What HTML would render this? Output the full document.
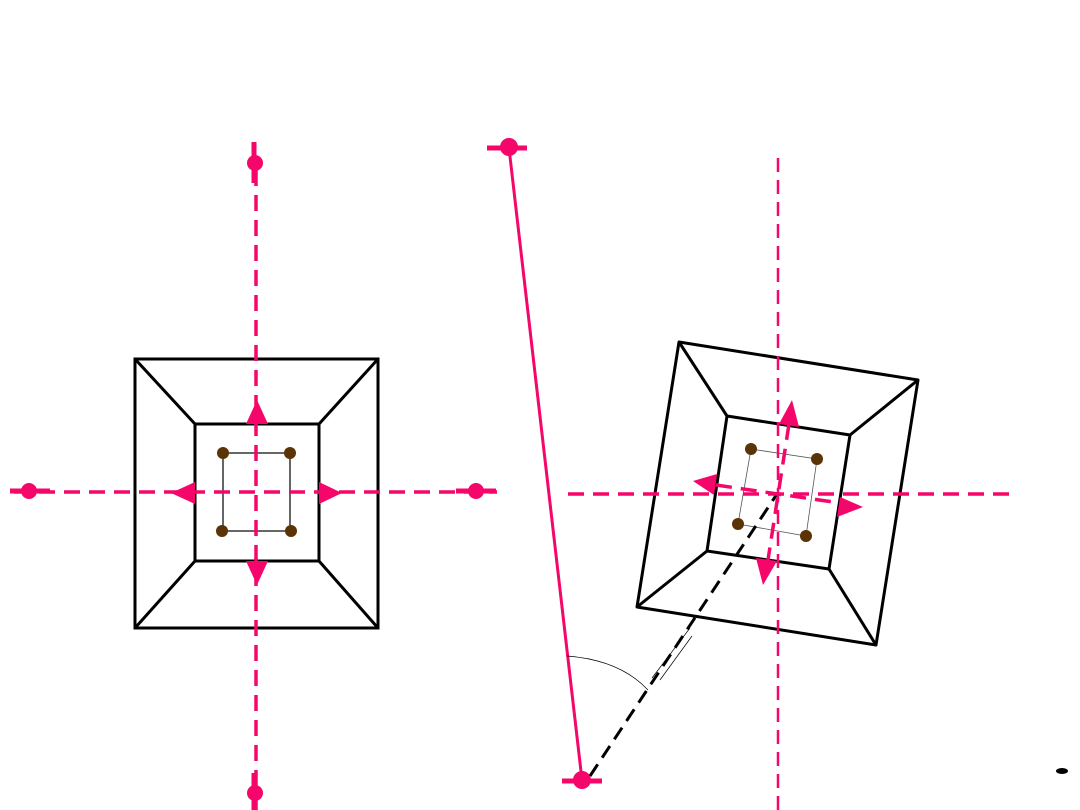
<!DOCTYPE html>
<html><head><meta charset="utf-8"><style>html,body{margin:0;padding:0;background:#fff}svg{display:block}</style></head>
<body>
<svg width="1080" height="810" viewBox="0 0 1080 810" xmlns="http://www.w3.org/2000/svg">
<rect width="1080" height="810" fill="#fff"/>
<!-- LEFT FIGURE -->
<g stroke="#000" stroke-width="3" fill="none">
<rect x="135" y="359" width="243" height="269"/>
<rect x="195" y="424" width="124" height="137"/>
<line x1="135" y1="359" x2="195" y2="424"/><line x1="378" y1="359" x2="319" y2="424"/>
<line x1="135" y1="628" x2="195" y2="561"/><line x1="378" y1="628" x2="319" y2="561"/>
</g>
<rect x="223" y="453" width="67" height="78" fill="none" stroke="#000" stroke-width="1.2"/>
<g fill="#5a3306"><circle cx="223" cy="453" r="6"/><circle cx="290" cy="453" r="6"/><circle cx="222" cy="531" r="6"/><circle cx="291" cy="531" r="6"/></g>
<g fill="#f5066a">
<polygon points="257,400 246,424 268,424"/><polygon points="257,585 246,561 268,561"/>
<polygon points="171,493 195,482 195,504"/><polygon points="342,493 319,482 319,504"/>
</g>
<g stroke="#f5066a" stroke-width="3.5" stroke-dasharray="16,9" fill="none">
<line x1="256" y1="170" x2="256" y2="810"/>
<line x1="14" y1="492" x2="497" y2="492"/>
</g>
<g stroke="#f5066a" stroke-width="5" fill="#f5066a">
<line x1="254" y1="142" x2="254" y2="183"/><circle cx="255" cy="163" r="8" stroke="none"/>
<line x1="254" y1="773" x2="254" y2="810"/><circle cx="255" cy="793" r="8" stroke="none"/>
<line x1="10" y1="491" x2="50" y2="491"/><circle cx="29" cy="491" r="8" stroke="none"/>
<line x1="456" y1="491" x2="496" y2="491"/><circle cx="476" cy="491" r="8" stroke="none"/>
</g>
<!-- RIGHT FIGURE -->
<line x1="509" y1="148" x2="582" y2="780" stroke="#f5066a" stroke-width="3"/>
<g stroke="#f5066a" stroke-width="5" fill="#f5066a">
<line x1="487" y1="148" x2="527" y2="148"/><circle cx="509" cy="147" r="9" stroke="none"/>
<line x1="562" y1="781" x2="602" y2="781"/><circle cx="582" cy="780" r="9" stroke="none"/>
</g>
<g stroke="#000" stroke-width="3" fill="none" stroke-linejoin="round">
<polygon points="679,342 918,380 876,645 637,607"/>
<polygon points="727,416 850,435 829,569 707,551"/>
<line x1="679" y1="342" x2="727" y2="416"/><line x1="918" y1="380" x2="850" y2="435"/>
<line x1="876" y1="645" x2="829" y2="569"/><line x1="637" y1="607" x2="707" y2="551"/>
</g>
<polygon points="751,449 817,459 806,536 738,524" fill="none" stroke="#555" stroke-width="0.8"/>
<g fill="#5a3306"><circle cx="751" cy="449" r="6"/><circle cx="817" cy="459" r="6"/><circle cx="738" cy="524" r="6"/><circle cx="806" cy="536" r="6"/></g>
<path d="M567,656 Q620,660 648,690" fill="none" stroke="#000" stroke-width="0.7"/>
<line x1="652" y1="678" x2="690" y2="628" stroke="#000" stroke-width="0.7"/>
<line x1="660" y1="680" x2="692" y2="636" stroke="#000" stroke-width="0.7"/>
<line x1="590" y1="776" x2="777" y2="494" stroke="#000" stroke-width="3" stroke-dasharray="14,8"/>
<g stroke="#f5066a" stroke-width="3.5" stroke-dasharray="16,9" fill="none">
<line x1="778" y1="158" x2="778" y2="810" stroke-width="2.5" stroke-dasharray="14,8"/>
<line x1="568" y1="494" x2="1012" y2="494"/>
<line x1="789" y1="424" x2="768" y2="560"/>
<line x1="716" y1="485" x2="840" y2="503"/>
</g>
<g fill="#f5066a">
<polygon points="792,400 779,424 799,427"/>
<polygon points="763,585 756,558 777,561"/>
<polygon points="693,481 717,474 714,495"/>
<polygon points="863,507 840,497 837,517"/>
</g>
<ellipse cx="1062" cy="771" rx="6" ry="3" fill="#000"/>
</svg>
</body></html>
